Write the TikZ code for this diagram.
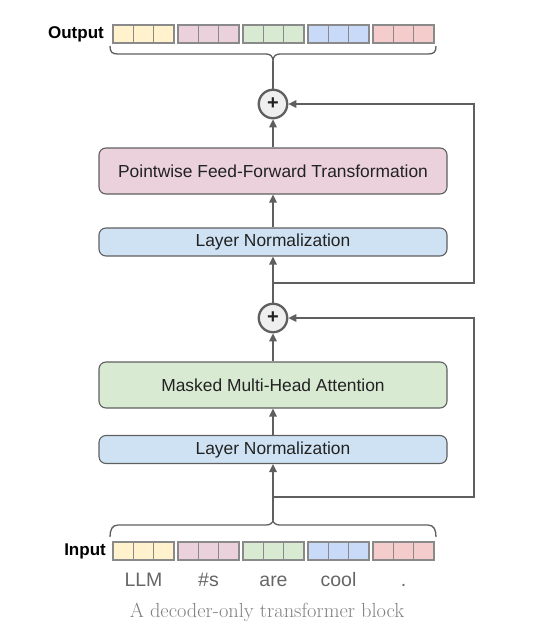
\documentclass[tikz,border=0pt]{standalone}
\usepackage{fontspec}
\setsansfont{Liberation Sans}
\usetikzlibrary{arrows.meta}
\definecolor{linec}{HTML}{5F5F5F}
\definecolor{cellb}{HTML}{8A8A8A}
\definecolor{tyellow}{HTML}{FFF2CC}
\definecolor{tpink}{HTML}{EAD1DC}
\definecolor{tgreen}{HTML}{D9EAD3}
\definecolor{tblue}{HTML}{C9DAF8}
\definecolor{tred}{HTML}{F4CCCC}
\definecolor{lnblue}{HTML}{CFE2F3}
\definecolor{circfill}{HTML}{EFEFEF}
\definecolor{txtc}{HTML}{222222}
\definecolor{wordc}{HTML}{666666}
\definecolor{capc}{HTML}{808080}
\tikzset{
  blockbox/.style={draw=linec, line width=1.1pt, rounded corners=7pt, minimum width=348pt,
    inner sep=0pt, text=txtc, font=\sffamily\fontsize{17.4}{19}\selectfont},
  addcirc/.style={circle, draw=linec, line width=2.3pt, fill=circfill, minimum size=28.5pt,
    inner sep=0pt, font=\sffamily\bfseries\fontsize{20}{20}\selectfont, text=txtc},
  conn/.style={draw=linec, line width=1.5pt},
  arr/.style={conn, -{Triangle[length=8pt,width=7.5pt]}},
  cell/.style={draw=cellb, line width=1.1pt},
  lbl/.style={font=\sffamily\bfseries\fontsize{17}{19}\selectfont, text=black, inner sep=0pt},
  word/.style={font=\sffamily\fontsize{19.5}{22}\selectfont, text=wordc, inner sep=0pt, anchor=base},
}
\begin{document}
\begin{tikzpicture}[x=1pt,y=-1pt]
\useasboundingbox (0,0) rectangle (551,640);

% token rows
\foreach \c [count=\i from 0] in {tyellow,tpink,tgreen,tblue,tred}{
  \pgfmathsetmacro{\xs}{113+65*\i}
  \foreach \k in {0,1,2}{
    \pgfmathsetmacro{\xa}{\xs+\k*20.33}
    \pgfmathsetmacro{\xb}{\xs+(\k+1)*20.33}
    \draw[cell, fill=\c] (\xa,25) rectangle (\xb,43);
    \draw[cell, fill=\c] (\xa,542) rectangle (\xb,560);
  }
}
\node[lbl, anchor=east] (outl) at (104,34) {Output};
\node[lbl, anchor=east] (inl) at (106,551) {Input};

\node[word] (w1) at (143.5,586) {LLM};
\node[word] (w2) at (208.5,586) {\#s};
\node[word] (w3) at (273.5,586) {are};
\node[word] (w4) at (338.5,586) {cool};
\node[word] (w5) at (403.5,586) {.};

\node[text=capc, font=\fontsize{20.4}{24}\selectfont, inner sep=0pt] (cap) at (267,612) {A decoder-only transformer block};

% braces
\coordinate (otip) at (273,61);
\draw[conn, line width=1.3pt] (110,46) .. controls (110,52) and (112,54) .. (118,54) -- (266,54)
  .. controls (270,54) and (273,56) .. (otip) .. controls (273,56) and (276,54) .. (280,54)
  -- (428,54) .. controls (434,54) and (436,52) .. (436,46);
\coordinate (itip) at (273,520);
\draw[conn, line width=1.3pt] (110,537) .. controls (110,530) and (112,525) .. (118,525) -- (266,525)
  .. controls (270,525) and (273,523) .. (itip) .. controls (273,523) and (276,525) .. (280,525)
  -- (428,525) .. controls (434,525) and (436,530) .. (436,537);

% blocks
\node[addcirc] (c1) at (273,104) {+};
\node[blockbox, fill=tpink, minimum height=46pt] (ff) at (273,171) {Pointwise Feed-Forward Transformation};
\node[blockbox, fill=lnblue, minimum height=28pt] (ln1) at (273,242) {Layer Normalization};
\node[addcirc] (c2) at (273,318) {+};
\node[blockbox, fill=tgreen, minimum height=46pt] (mha) at (273,385) {Masked Multi-Head Attention};
\node[blockbox, fill=lnblue, minimum height=28pt] (ln2) at (273,449.5) {Layer Normalization};

% connectors
\draw[conn] (c1) -- (otip);
\draw[arr] (ff) -- (c1);
\draw[arr] (ln1) -- (ff);
\draw[arr] (c2) -- (ln1);
\draw[arr] (mha) -- (c2);
\draw[arr] (ln2) -- (mha);
\draw[arr] (itip) -- (ln2);

\coordinate (b1) at (273,497);
\coordinate (r1) at (474,497);
\draw[arr] (b1) -- (r1) |- (c2);
\coordinate (b2) at (273,283);
\coordinate (r2) at (474,283);
\draw[arr] (b2) -- (r2) |- (c1);
\end{tikzpicture}
\end{document}
